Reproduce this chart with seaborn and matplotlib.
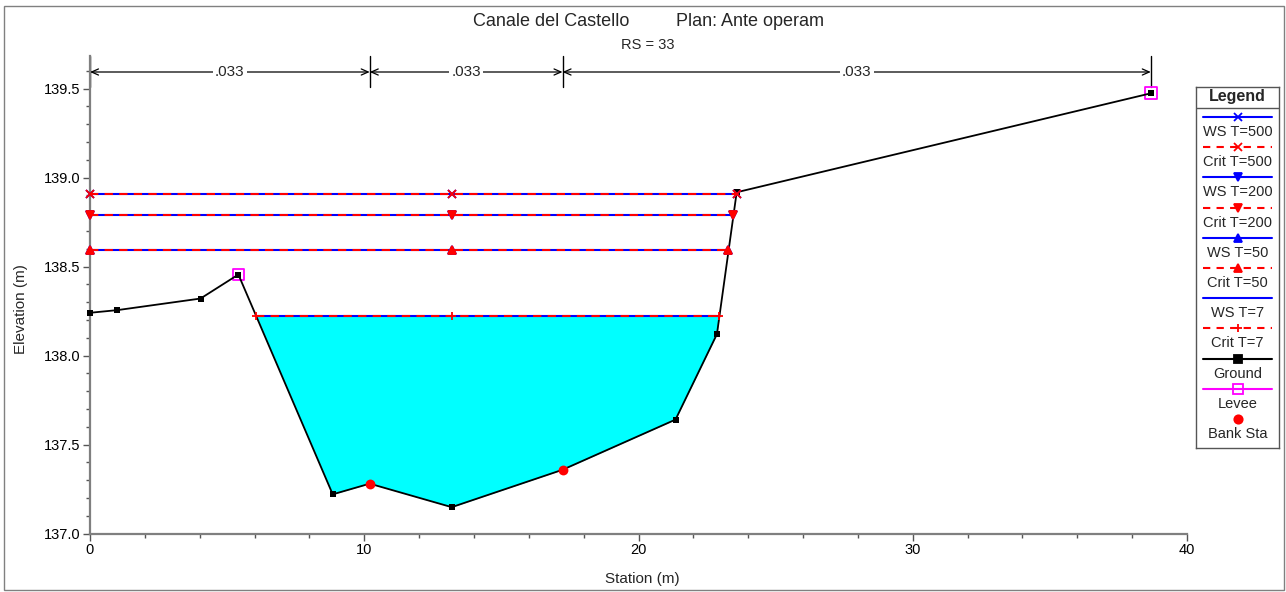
import numpy as np
import pandas as pd
import matplotlib
matplotlib.use("Agg")
import matplotlib.pyplot as plt
import matplotlib.transforms as mtransforms
from matplotlib.lines import Line2D
from matplotlib.patches import Rectangle
from matplotlib.ticker import MultipleLocator, FormatStrFormatter
import seaborn as sns

# ---- cross-section geometry (station m, elevation m) ----
ground_sta = [0.0, 1.0, 4.03, 5.41, 8.85, 10.2, 13.19, 17.23, 21.35, 22.86, 23.58, 38.68]
ground_elev = [138.24, 138.255, 138.32, 138.455, 137.22, 137.28, 137.148, 137.358, 137.64, 138.12, 138.917, 139.473]

levee_sta = [5.41, 38.68]
levee_elev = [138.455, 139.473]

bank_sta = [10.2, 17.23]
bank_elev = [137.28, 137.358]

# ---- water surface profiles ----
profiles = ["T=500", "T=200", "T=50", "T=7"]
ws_elev = [138.91, 138.79, 138.59, 138.22]
crit_elev = [138.91, 138.79, 138.59, 138.22]
ws_left = [0.0, 0.0, 0.0, 6.05]
ws_mid = [13.19, 13.19, 13.19, 13.19]
ws_right = [23.58, 23.43, 23.28, 22.92]
ws_markers = ["x", "v", "^", None]
crit_markers = ["x", "v", "^", "+"]

# ---- Manning's n regions ----
n_bounds = [0.0, 10.2, 17.23, 38.68]
n_values = [".033", ".033", ".033"]

W, H, DPI = 1286, 592, 100
BLUE, RED, MAG, CYAN = "#0000ff", "#ff0000", "#ff00ff", "#00ffff"

sns.set_style("ticks")
plt.rcParams["font.family"] = ["Liberation Sans", "DejaVu Sans"]

fig = plt.figure(figsize=(W / DPI, H / DPI), dpi=DPI)
ax = fig.add_axes([90 / W, 1 - 533.5 / H, (1187 - 90) / W, (533.5 - 56) / H])
ax.set_xlim(0, 40)
ax.set_ylim(137.0, 137.0 + (533.5 - 56) / 178.0)

# flow area of the lowest profile
gx = np.array(ground_sta)
gy = np.array(ground_elev)
ax.fill_between(gx, gy, ws_elev[3], where=gy < ws_elev[3], interpolate=True,
                color=CYAN, linewidth=0, zorder=1)

# ground line
sns.lineplot(x=ground_sta, y=ground_elev, ax=ax, color="black", lw=1.3,
             marker="s", markersize=4.6, mec="black", mfc="black", mew=0,
             estimator=None, sort=False, zorder=3, clip_on=False)

# levee points
sns.scatterplot(x=levee_sta, y=levee_elev, ax=ax, marker="s", s=70,
                facecolors="none", edgecolor=MAG, linewidth=1.3, zorder=2.5, clip_on=False)

# bank stations
sns.scatterplot(x=bank_sta, y=bank_elev, ax=ax, marker="o", s=50,
                color=RED, edgecolor=RED, linewidth=0, zorder=4)

# water surface and critical depth lines
for i in range(len(profiles)):
    xs = [ws_left[i], ws_mid[i], ws_right[i]]
    ws_kw = dict(marker=ws_markers[i], markersize=6, mec=BLUE, mfc=BLUE, mew=1.3) if ws_markers[i] else {}
    sns.lineplot(x=xs, y=[ws_elev[i]] * 3, ax=ax, color=BLUE, lw=1.5,
                 estimator=None, sort=False, zorder=5, clip_on=False, **ws_kw)
    sns.lineplot(x=xs, y=[crit_elev[i]] * 3, ax=ax, color=RED, lw=1.5,
                 linestyle=(0, (4, 3)), marker=crit_markers[i], markersize=6,
                 mec=RED, mfc=RED, mew=1.3, estimator=None, sort=False, zorder=6, clip_on=False)

# axes styling
sns.despine(ax=ax)
for side in ("left", "bottom"):
    ax.spines[side].set_color("#7f7f7f")
    ax.spines[side].set_linewidth(1.6)
ax.xaxis.set_major_locator(MultipleLocator(10))
ax.xaxis.set_minor_locator(MultipleLocator(2))
ax.yaxis.set_major_locator(MultipleLocator(0.5))
ax.yaxis.set_minor_locator(MultipleLocator(0.1))
ax.yaxis.set_major_formatter(FormatStrFormatter("%.1f"))
ax.tick_params(which="major", direction="out", length=5, width=1, color="#555555",
               labelsize=10.5, labelcolor="black", pad=2)
ax.tick_params(which="minor", direction="out", length=3, width=1, color="#555555")
ax.set_xlabel("")
ax.set_ylabel("")

fig.text(642 / W, 1 - 579 / H, "Station (m)", ha="center", va="center", fontsize=11)
fig.text(21 / W, 1 - 309 / H, "Elevation (m)", ha="center", va="center", fontsize=11, rotation=90)

# titles
fig.text(551 / W, 1 - 22 / H, "Canale del Castello", ha="center", va="center", fontsize=13)
fig.text(750 / W, 1 - 22 / H, "Plan: Ante operam", ha="center", va="center", fontsize=13)
fig.text(648 / W, 1 - 45 / H, "RS = 33", ha="center", va="center", fontsize=10.5)

# Manning's n bar
trans = mtransforms.blended_transform_factory(ax.transData, ax.transAxes)
y_tick_lo = 1 - 31 / 477.5
y_arrow = 1 - 16 / 477.5
for b in n_bounds:
    ax.plot([b, b], [y_tick_lo, 1.0], color="black", lw=1, transform=trans, clip_on=False)
for j, val in enumerate(n_values):
    x0, x1 = n_bounds[j], n_bounds[j + 1]
    ax.annotate("", xy=(x1, y_arrow), xytext=(x0, y_arrow), xycoords=trans, textcoords=trans,
                arrowprops=dict(arrowstyle="<->,head_length=0.5,head_width=0.22", color="black",
                                lw=0.9, shrinkA=0, shrinkB=0), annotation_clip=False)
    ax.text((x0 + x1) / 2, y_arrow, val, transform=trans, ha="center", va="center",
            fontsize=11, bbox=dict(boxstyle="square,pad=0.15", fc="white", ec="none"), clip_on=False)

# legend panel
lg = fig.add_axes([1196 / W, 1 - 448 / H, 83 / W, 361 / H])
lg.set_xlim(0, 83)
lg.set_ylim(361, 0)
lg.set_xticks([])
lg.set_yticks([])
for s in lg.spines.values():
    s.set_color("#555555")
    s.set_linewidth(1)
lg.text(41.5, 10, "Legend", ha="center", va="center", fontsize=11.5, fontweight="bold")
lg.plot([0, 83], [21, 21], color="#555555", lw=1)

entries = [
    ("WS T=500", BLUE, "-", "x", BLUE, BLUE),
    ("Crit T=500", RED, "--", "x", RED, RED),
    ("WS T=200", BLUE, "-", "v", BLUE, BLUE),
    ("Crit T=200", RED, "--", "v", RED, RED),
    ("WS T=50", BLUE, "-", "^", BLUE, BLUE),
    ("Crit T=50", RED, "--", "^", RED, RED),
    ("WS T=7", BLUE, "-", None, BLUE, BLUE),
    ("Crit T=7", RED, "--", "+", RED, RED),
    ("Ground", "black", "-", "s", "black", "black"),
    ("Levee", MAG, "-", "s", MAG, "none"),
    ("Bank Sta", None, None, "o", RED, RED),
]
for i, (label, lc, ls, mk, mec, mfc) in enumerate(entries):
    yl = 30 + 30.2 * i
    if lc is not None:
        dash = (0, (3.5, 3)) if ls == "--" else "-"
        lg.add_line(Line2D([7, 76], [yl, yl], color=lc, lw=1.5, linestyle=dash))
    if mk is not None:
        lg.add_line(Line2D([41.5], [yl], marker=mk, markersize=7 if mk == "s" and mfc == "none" else 6,
                           mec=mec, mfc=mfc, mew=1.3, linestyle="none"))
    lg.text(41.5, yl + 15, label, ha="center", va="center", fontsize=10.5)

# outer frame
fig.patches.append(Rectangle((4 / W, 2 / H), 1280 / W, 584 / H, transform=fig.transFigure,
                             fill=False, ec="#808080", lw=1))

fig.savefig("out.png", dpi=DPI)
